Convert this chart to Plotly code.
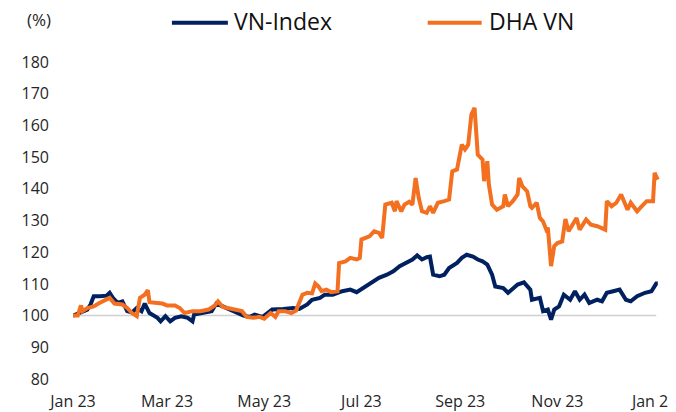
import plotly.graph_objects as go

# ---------------- data ----------------
vn_dates = ["2023-01-01","2023-01-05","2023-01-10","2023-01-12","2023-01-14","2023-01-18","2023-01-22","2023-01-24","2023-01-26","2023-01-29",
            "2023-02-01","2023-02-04","2023-02-07","2023-02-10","2023-02-13","2023-02-15","2023-02-18","2023-02-23","2023-02-25","2023-02-28",
            "2023-03-03","2023-03-06","2023-03-10","2023-03-14","2023-03-17","2023-03-18","2023-03-24","2023-03-29","2023-04-01","2023-04-05",
            "2023-04-09","2023-04-14","2023-04-18","2023-04-22","2023-04-25","2023-04-30","2023-05-03","2023-05-06","2023-05-13","2023-05-19",
            "2023-05-23","2023-05-28","2023-05-31","2023-06-05","2023-06-08","2023-06-13","2023-06-19","2023-06-24","2023-06-28","2023-07-02",
            "2023-07-04","2023-07-08","2023-07-12","2023-07-17","2023-07-21","2023-07-25","2023-07-29","2023-08-02","2023-08-05","2023-08-08",
            "2023-08-11","2023-08-13","2023-08-15","2023-08-19","2023-08-22","2023-08-25","2023-08-30","2023-09-02","2023-09-05","2023-09-09",
            "2023-09-12","2023-09-15","2023-09-18","2023-09-21","2023-09-23","2023-09-28","2023-10-01","2023-10-04","2023-10-07","2023-10-11",
            "2023-10-15","2023-10-16","2023-10-21","2023-10-23","2023-10-26","2023-10-28","2023-10-30","2023-11-02","2023-11-05","2023-11-09",
            "2023-11-12","2023-11-15","2023-11-18","2023-11-21","2023-11-26","2023-11-29","2023-12-02","2023-12-06","2023-12-10","2023-12-14",
            "2023-12-17","2023-12-21","2023-12-26","2023-12-30","2024-01-02","2024-01-03"]
vn_values = [100.0,100.8,101.9,103.5,106.1,106.1,106.3,107.2,105.6,104.0,
             104.5,101.4,101.0,102.4,101.4,103.8,100.8,99.3,98.2,99.8,
             98.2,99.3,99.8,99.3,98.2,100.3,100.8,101.4,103.8,102.9,
             101.9,101.0,100.0,99.6,100.3,99.6,100.8,101.9,102.1,102.4,
             102.1,103.5,105.0,105.6,106.6,106.6,107.7,108.2,107.4,108.7,
             109.2,110.8,111.9,112.9,114.0,115.6,116.6,117.7,119.0,117.7,
             118.4,118.6,112.9,112.4,112.9,115.0,116.6,118.2,119.2,118.6,
             117.7,117.1,116.1,112.9,109.2,108.7,107.2,108.7,109.8,110.5,
             108.2,105.0,105.6,101.4,101.9,98.7,101.9,102.9,106.6,105.0,
             107.7,105.0,106.6,104.0,105.0,104.5,107.2,107.7,108.2,105.0,
             104.5,106.1,107.2,107.7,110.1,110.1]

dha_dates = ["2023-01-01","2023-01-04","2023-01-06","2023-01-07","2023-01-10","2023-01-14","2023-01-17","2023-01-22","2023-01-24","2023-01-27",
             "2023-02-01","2023-02-04","2023-02-07","2023-02-10","2023-02-12","2023-02-15","2023-02-17","2023-02-18","2023-02-23","2023-02-26",
             "2023-03-01","2023-03-06","2023-03-09","2023-03-12","2023-03-17","2023-03-22","2023-03-27","2023-03-31","2023-04-02","2023-04-05",
             "2023-04-08","2023-04-13","2023-04-17","2023-04-20","2023-04-24","2023-04-28","2023-05-01","2023-05-05","2023-05-08","2023-05-10",
             "2023-05-14","2023-05-18","2023-05-21","2023-05-25","2023-05-28","2023-05-31","2023-06-02","2023-06-04","2023-06-06","2023-06-09",
             "2023-06-12","2023-06-16","2023-06-17","2023-06-21","2023-06-24","2023-06-28","2023-06-30","2023-07-01","2023-07-03","2023-07-06",
             "2023-07-09","2023-07-12","2023-07-14","2023-07-16","2023-07-20","2023-07-22","2023-07-23","2023-07-26","2023-07-28","2023-07-31",
             "2023-08-02","2023-08-04","2023-08-06","2023-08-08","2023-08-11","2023-08-13","2023-08-15","2023-08-18","2023-08-22","2023-08-25",
             "2023-08-27","2023-08-30","2023-09-02","2023-09-04","2023-09-06","2023-09-08","2023-09-10","2023-09-12","2023-09-15","2023-09-16",
             "2023-09-18","2023-09-19","2023-09-21","2023-09-24","2023-09-28","2023-09-29","2023-10-01","2023-10-04","2023-10-07","2023-10-08",
             "2023-10-10","2023-10-13","2023-10-15","2023-10-16","2023-10-19","2023-10-21","2023-10-23","2023-10-25","2023-10-26","2023-10-28",
             "2023-10-30","2023-11-01","2023-11-04","2023-11-06","2023-11-08","2023-11-10","2023-11-13","2023-11-15","2023-11-19","2023-11-22",
             "2023-11-26","2023-12-01","2023-12-02","2023-12-05","2023-12-08","2023-12-11","2023-12-13","2023-12-15","2023-12-17","2023-12-21",
             "2023-12-24","2023-12-27","2023-12-31","2024-01-01","2024-01-02","2024-01-03"]
dha_values = [100.0,100.0,103.2,101.4,102.4,102.9,103.8,105.0,105.6,103.8,
              103.5,102.4,100.8,99.8,105.6,106.6,108.0,104.2,104.0,103.8,
              103.2,103.2,102.4,100.8,101.4,101.4,101.9,103.2,104.5,102.7,
              102.4,101.9,101.4,99.6,99.3,99.6,99.0,100.8,99.6,101.4,
              101.4,100.8,101.6,106.6,107.2,107.0,110.1,109.2,107.7,108.2,
              107.4,107.7,116.6,117.1,118.2,117.7,118.2,124.0,124.5,125.0,
              126.6,126.1,124.5,135.0,135.6,132.9,136.1,132.9,135.0,135.9,
              135.0,143.4,137.1,132.9,132.4,134.5,132.4,135.6,136.1,136.6,
              145.5,146.1,153.9,152.4,153.9,163.4,165.5,150.8,149.2,142.4,
              148.7,141.3,135.0,133.4,134.5,138.2,134.5,136.1,138.2,143.4,
              140.8,139.2,134.5,134.0,135.6,130.8,129.7,127.1,127.7,115.6,
              121.9,122.9,123.4,130.5,126.6,128.2,130.8,127.1,130.3,128.7,
              128.2,127.1,136.1,134.5,135.6,138.2,136.1,133.4,135.6,132.9,
              134.5,136.1,136.1,145.0,143.9,142.9]

series_names = ["VN-Index", "DHA VN"]
x_tick_vals = ["2023-01-01","2023-03-01","2023-05-01","2023-07-01","2023-09-01","2023-11-01","2024-01-01"]
x_tick_text = ["Jan 23","Mar 23","May 23","Jul 23","Sep 23","Nov 23","Jan 24"]
y_tick_vals = [80, 90, 100, 110, 120, 130, 140, 150, 160, 170, 180]
unit_label = "(%)"
base_value = 100

# ---------------- styling ----------------
NAVY = "#002060"
ORANGE = "#F37021"
FONT = "Open Sans"
TXT = "#262626"

OFF = 8  # page body margin offset
W, H = 676 - OFF, 412 - OFF
ML, MR, MT, MB = 73 - OFF, 14.5, 62 - OFF, 33
PW = W - ML - MR
PH = H - MT - MB

def px_x(p):
    return (p - OFF - ML) / PW

def px_y(p):
    return (H - MB - (p - OFF)) / PH

fig = go.Figure()
fig.add_trace(go.Scatter(x=vn_dates, y=vn_values, mode="lines", name=series_names[0],
                         line=dict(color=NAVY, width=4), showlegend=False))
fig.add_trace(go.Scatter(x=dha_dates, y=dha_values, mode="lines", name=series_names[1],
                         line=dict(color=ORANGE, width=4), showlegend=False))

# reference line at 100
fig.add_shape(type="line", xref="x", yref="y", x0=vn_dates[0], x1="2024-01-02",
              y0=base_value, y1=base_value, line=dict(color="#D0D0D0", width=1.5), layer="below")

# manual legend
legend_items = [(series_names[0], NAVY, 172, 228, 232), (series_names[1], ORANGE, 428, 482, 487)]
for name, col, lx0, lx1, tx in legend_items:
    fig.add_shape(type="line", xref="paper", yref="paper", x0=px_x(lx0), x1=px_x(lx1),
                  y0=px_y(22.7), y1=px_y(22.7), line=dict(color=col, width=4))
    fig.add_annotation(xref="paper", yref="paper", x=px_x(tx), y=px_y(21), text=name,
                       showarrow=False, xanchor="left", yanchor="middle",
                       font=dict(family=FONT, size=23, color="#111111"))

fig.add_annotation(xref="paper", yref="paper", x=px_x(25), y=px_y(19.5), text=unit_label,
                   showarrow=False, xanchor="left", yanchor="middle",
                   font=dict(family=FONT, size=17, color=TXT))

fig.update_layout(
    width=W, height=H,
    margin=dict(l=ML, r=MR, t=MT, b=MB, pad=0, autoexpand=False),
    paper_bgcolor="white", plot_bgcolor="white",
    font=dict(family=FONT, size=16, color=TXT),
    showlegend=False,
)
fig.update_xaxes(range=["2023-01-01", "2024-01-05"], tickvals=x_tick_vals, ticktext=x_tick_text,
                 showgrid=False, zeroline=False, showline=False, ticks="", automargin=False,
                 ticklabeloverflow="allow",
                 ticklabelstandoff=11, tickfont=dict(family=FONT, size=16, color=TXT))
fig.update_yaxes(range=[80, 180], tickvals=y_tick_vals, showgrid=False, zeroline=False,
                 showline=False, ticks="", ticklabelstandoff=23, automargin=False,
                 tickfont=dict(family=FONT, size=16, color=TXT))

fig.write_html("out.html")
